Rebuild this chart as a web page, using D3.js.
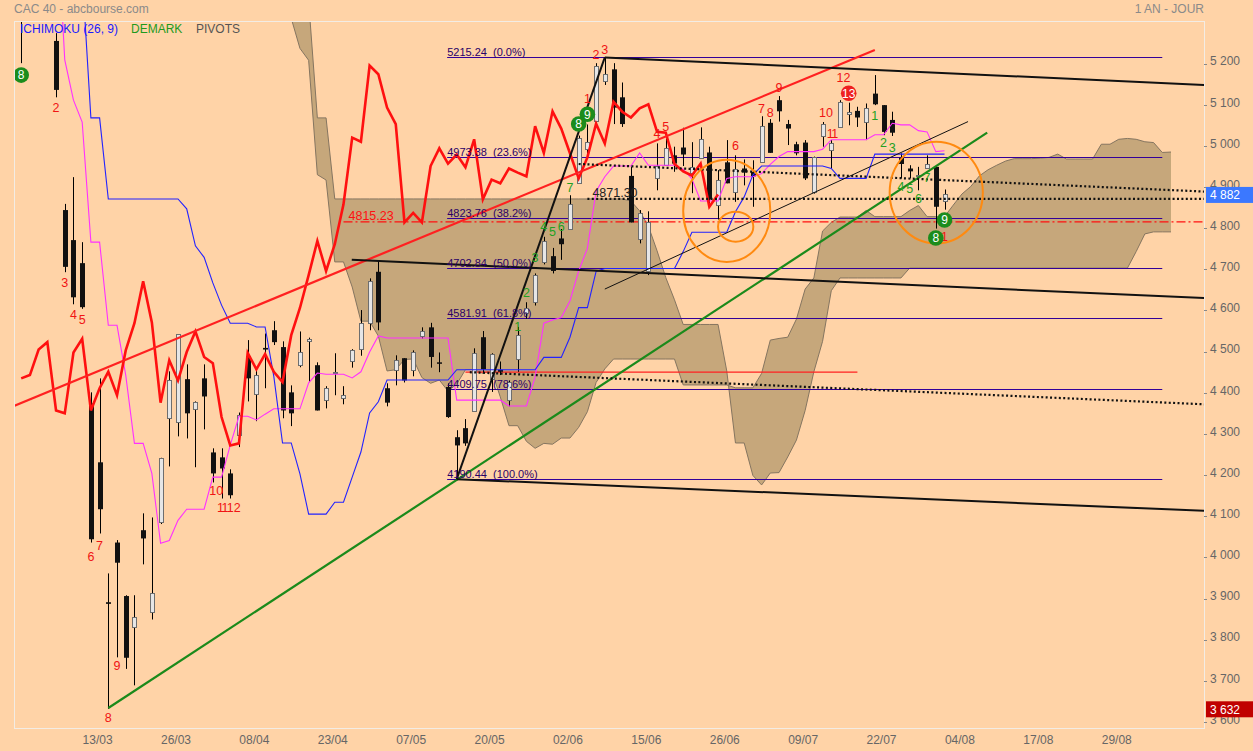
<!DOCTYPE html>
<html><head><meta charset="utf-8">
<script src="https://cdn.jsdelivr.net/npm/d3@7"></script>
<style>
html,body{margin:0;padding:0;background:#ffd3a7;}
svg{display:block;font-family:"Liberation Sans",Arial,sans-serif;}
</style></head><body>
<svg id="c" width="1253" height="751"></svg>
<script>
// ---------- DATA ----------
const open  = [5316,5340,5400,5480,5255,4844,4771,4715,4374,4231,3891,4036,3906,3830,4066,3866,4085,4338,4328,4433,4360,4435,4255,4243,4204,4297,4489,4396,4509,4552,4511,4401,4467,4526,4467,4382,4449,4387,4477,4506,4569,4694,4411,4455,4484,4455,4537,4559,4474,4414,4292,4314,4357,4535,4433,4456,4382,4481,4593,4621,4717,4732,4775,4798,4911,4994,5061,5158,5186,5118,4927,4775,4694,4921,4953,4977,4996,4933,4969,4984,4858,4960,4888,4945,4937,4961,5056,5111,5053,5004,5008,4888,5025,4990,5046,5077,5085,5058,5127,5099,5063,4971,4945,4928,4948,4949,4864];
const high  = [5366,5420,5490,5500,5274,4859,4924,4766,4401,4435,3961,4042,3908,3908,4107,4097,4242,4452,4542,4469,4379,4469,4265,4265,4214,4352,4528,4462,4544,4574,4525,4418,4549,4534,4474,4416,4496,4416,4506,4601,4678,4720,4423,4491,4484,4503,4559,4570,4498,4423,4309,4336,4508,4550,4496,4476,4430,4560,4620,4690,4779,4752,4798,4880,5025,5052,5201,5215,5201,5154,4949,4844,4841,5006,5018,4998,5044,5009,5045,4998,4941,5014,4977,4967,4965,5072,5065,5121,5063,5010,5014,4974,5058,5014,5111,5105,5095,5103,5172,5099,5083,4982,4953,4949,4977,4953,4894];
const low   = [5201,5310,5340,5350,5118,4693,4615,4604,4036,4058,3632,3757,3729,3689,3983,3849,4081,4221,4294,4289,4219,4311,4182,4143,4143,4268,4379,4331,4411,4516,4338,4319,4462,4426,4357,4362,4394,4372,4461,4490,4552,4552,4367,4418,4425,4440,4532,4461,4450,4339,4190,4271,4357,4450,4402,4443,4367,4451,4580,4612,4712,4690,4723,4798,4911,4974,5055,5148,5053,5046,4814,4763,4686,4892,4953,4937,4951,4885,4969,4860,4821,4909,4864,4904,4852,4961,4983,5059,5002,4977,4917,4884,4998,4945,5046,5050,5046,5014,5099,5026,5024,4921,4921,4892,4947,4799,4845];
const close = [5336,5393,5487,5368,5136,4706,4632,4608,4044,4117,3887,3987,3756,3855,4046,3913,4241,4430,4542,4350,4377,4391,4204,4216,4151,4345,4435,4443,4505,4523,4357,4350,4498,4531,4357,4411,4451,4394,4503,4569,4671,4571,4376,4479,4430,4499,4549,4487,4472,4341,4272,4277,4497,4457,4494,4451,4426,4540,4606,4686,4769,4696,4761,4858,5020,5010,5195,5174,5093,5053,4814,4837,4814,4951,4994,4957,4979,4948,5016,4870,4918,4909,4945,4935,4926,5048,4983,5084,5042,4982,4921,4972,5054,5006,5107,5083,5069,5091,5101,5034,5032,4956,4938,4928,4957,4852,4882];

// Ichimoku (26, 9) lines
const tenkan = [5650,5650,5650,5650,5600,5209,5111,5058,4766,4766,4564,4564,4443,4277,4277,4204,4034,4041,4090,4117,4117,4117,4195,4195,4273,4343,4343,4334,4348,4361,4361,4361,4361,4424,4448,4445,4445,4445,4436,4451,4499,4538,4533,4533,4533,4533,4533,4533,4533,4533,4382,4382,4382,4382,4382,4382,4368,4368,4368,4438,4569,4577,4583,4623,4696,4751,4890,4925,4951,4951,4951,4983,4953,4953,4953,4953,4943,4920,4866,4866,4866,4921,4925,4925,4925,4933,4955,4974,4986,4986,4986,4986,4992,5015,5015,5015,5015,5015,5027,5027,5055,5051,5051,5037,5034,4986,4988];
const kijun  = [5470,5470,5470,5470,5470,5470,5470,5418,5068,5068,4871,4871,4871,4871,4871,4871,4871,4871,4871,4847,4757,4729,4667,4613,4569,4569,4569,4560,4560,4440,4278,4278,4203,4105,4105,4105,4134,4134,4195,4256,4351,4378,4431,4431,4431,4431,4431,4431,4431,4431,4456,4456,4456,4456,4456,4456,4456,4456,4456,4456,4486,4486,4486,4535,4607,4607,4695,4702,4702,4702,4702,4702,4702,4702,4702,4702,4743,4790,4790,4790,4790,4790,4840,4876,4929,4951,4951,4951,4951,4951,4951,4951,4951,4945,4921,4921,4921,4921,4980,4980,4980,4980,4980,4980,4980,4980,4980];
// Senkou spans (already displaced 26 sessions ahead), first value at session index 30
const spanStart = 30;
const spanA = [
  5465,5310,5237,5208,4930,4917,4718,4718,4657,4574,
  4574,4538,4453,4456,4481,4482,4437,4423,4431,4404,
  4421,4456,4456,4447,4454,4390,4320,4320,4282,4265,
  4277,4275,4290,4290,4316,4354,4425,4458,4482,4482,
  4482,4482,4482,4482,4482,4482,4419,4419,4419,4419,
  4419,4419,4412,4412,4412,4447,4528,4532,4535,4579,
  4652,4679,4793,4814,4827,4827,4827,4843,4828,4828,
  4828,4828,4843,4855,4828,4828,4828,4856,4883,4901,
  4927,4942,4953,4963,4969,4969,4969,4970,4972,4980,
  4968,4968,4968,4968,5004,5004,5016,5018,5016,5010,
  5008,4984,4985];
const spanB = [
  5450,5420,5400,5351,5068,5068,4871,4871,4871,4871,
  4871,4871,4871,4871,4871,4871,4871,4871,4871,4871,
  4871,4871,4871,4871,4871,4871,4871,4871,4871,4871,
  4871,4871,4871,4871,4871,4871,4871,4871,4871,4871,
  4866,4842,4805,4745,4680,4626,4566,4566,4566,4566,
  4566,4453,4278,4278,4199,4176,4205,4206,4244,4285,
  4357,4451,4525,4648,4679,4679,4679,4679,4679,4679,
  4679,4679,4703,4703,4703,4703,4703,4703,4703,4703,
  4703,4703,4703,4703,4703,4703,4703,4703,4703,4703,
  4703,4703,4703,4703,4703,4703,4703,4703,4743,4786,
  4791,4791,4791];
const chikouShift = 26;

// axis
const tickIndex  = [9,18,27,36,45,54,63,72,81,90,99,108,117,126];
const tickLabels = ["13/03","26/03","08/04","23/04","07/05","20/05","02/06","15/06","26/06","09/07","22/07","04/08","17/08","29/08"];
const priceTicks = [3600,3700,3800,3900,4000,4100,4200,4300,4400,4500,4600,4700,4800,4900,5000,5100,5200];
const lastPrice = 4882, lowPrice = 3632;

// Fibonacci retracement
const fibLevels = [5215.24,4973.38,4823.76,4702.84,4581.91,4409.75,4190.44];
const fibPct    = ["0.0%","23.6%","38.2%","50.0%","61.8%","78.6%","100.0%"];
const fibSpan   = [48.9, 131.0];

// drawn lines: [index1, price1, index2, price2]
const redTrend    = [-0.83,4368, 98.0,5233];
const greenTrend  = [10,3634, 110.9,5032];
const blackSteep  = [50,4190, 67,5215];
const blackTop    = [67,5215, 135.8,5148];
const blackMid    = [37.95,4723, 135.8,4630];
const blackBottom = [50,4190, 135.8,4113];
const thinBlack   = [67,4652, 108.7,5059];
const dotUpper    = [64,4956, 135.8,4889];
const dotMid      = [65,4871.30, 135.8,4871.30];
const dotLower    = [51.5,4450, 135.8,4372];
const redShort    = [51,4450, 96,4450];
const redLevel    = [37,4815.23, 135.8,4815.23];

// orange ellipses: [index1, index2, priceTop, priceBottom]
const ellipses = [[76.0,86.0,4966,4718],[80.0,84.05,4840,4767],[99.7,110.4,5010,4763]];

// DeMark counts: [index, price, text]
const demarkRed = [[4,5094,"2"],[5,4667,"3"],[6,4589,"4"],[7,4579,"5"],[8,4003,"6"],[9,4030,"7"],[10,3610,"8"],[11,3736,"9"],[22,4162,"10"],[23,4120,"11"],[24,4120,"12"],[65,5116,"1"],[66,5221,"2"],[67,5233,"3"],[73,5031,"4"],[74,5046,"5"],[82,5000,"6"],[85,5090,"7"],[86,5082,"8"],[87,5143,"9"],[92,5082,"10"],[93,5029,"11"],[94,5167,"12"],[106,4779,"1"]];
const demarkRedCircle = [[95,5128,"13"]];
const demarkGreen = [[57,4560,"1"],[58,4643,"2"],[59,4728,"3"],[60,4803,"4"],[61,4791,"5"],[62,4803,"6"],[63,4900,"7"],[98,5075,"1"],[99,5007,"2"],[100,4997,"3"],[101,4902,"4"],[102,4897,"5"],[103,4871,"6"],[104,4924,"7"]];
const demarkGreenCircle = [[0,5172,"8"],[64,5053,"8"],[65,5077,"9"],[105,4776,"8"],[106,4820,"9"]];

// ---------- CHART ----------
const L=14, T=21, R=1204, B=728;
const x = d3.scaleLinear().domain([-0.827,135.79]).range([L,R]);
const y = d3.scaleLinear().domain([5215.24,4190.44]).range([57.3,479.0]);
const svg = d3.select("#c");

svg.append("defs").append("clipPath").attr("id","clip")
  .append("rect").attr("x",L).attr("y",T).attr("width",R-L).attr("height",B-T);

svg.append("text").attr("x",14).attr("y",13).attr("font-size",12).attr("fill","#8a8a8a").text("CAC 40 - abcbourse.com");
svg.append("text").attr("x",1204).attr("y",13).attr("font-size",12).attr("fill","#8a8a8a").attr("text-anchor","end").text("1 AN - JOUR");

const plot = svg.append("g").attr("clip-path","url(#clip)");

// cloud
const spanIdx = d3.range(Math.min(spanA.length, spanB.length));
const area = d3.area().x(k=>x(k+spanStart)).y0(k=>y(spanB[k])).y1(k=>y(spanA[k]));
plot.append("path").datum(spanIdx).attr("d",area).attr("fill","#c6a77b");
const lineA = d3.line().x(k=>x(k+spanStart)).y(k=>y(spanA[k]));
const lineB = d3.line().x(k=>x(k+spanStart)).y(k=>y(spanB[k]));
plot.append("path").datum(spanIdx).attr("d",lineA).attr("fill","none").attr("stroke","#857560").attr("stroke-width",1);
plot.append("path").datum(spanIdx).attr("d",lineB).attr("fill","none").attr("stroke","#857560").attr("stroke-width",1);

// fib lines
fibLevels.forEach(v=>{
  plot.append("line").attr("x1",x(fibSpan[0])).attr("x2",x(fibSpan[1]))
    .attr("y1",Math.round(y(v))+0.5).attr("y2",Math.round(y(v))+0.5)
    .attr("stroke","#330099").attr("stroke-width",1);
});

function seg(a, color, w, dash){
  const p = plot.append("line").attr("x1",x(a[0])).attr("y1",y(a[1])).attr("x2",x(a[2])).attr("y2",y(a[3]))
    .attr("stroke",color).attr("stroke-width",w);
  if(dash) p.attr("stroke-dasharray",dash);
  return p;
}
seg(redLevel,"#ff1010",1.3,"9,3,2,3");
seg(redShort,"#ff2020",1.2);

// candles
const idx = d3.range(open.length);
idx.forEach(i=>{
  const xc = Math.round(x(i))+0.5;
  plot.append("line").attr("x1",xc).attr("x2",xc).attr("y1",y(high[i])).attr("y2",y(low[i])).attr("stroke","#000").attr("stroke-width",1);
  const up = close[i]>=open[i];
  const top = y(Math.max(open[i],close[i])), bot = y(Math.min(open[i],close[i]));
  if(up){
    plot.append("rect").attr("x",xc-2).attr("y",Math.round(top)+0.5).attr("width",4).attr("height",Math.max(1,Math.round(bot-top)))
      .attr("fill","#e6e6e6").attr("stroke","#6e6e6e").attr("stroke-width",1);
  } else {
    plot.append("rect").attr("x",xc-2.5).attr("y",top).attr("width",5).attr("height",Math.max(1.5,bot-top)).attr("fill","#111");
  }
});

// ichimoku lines
const lt = d3.line().x(i=>x(i)).y(i=>y(tenkan[i]));
const lk = d3.line().x(i=>x(i)).y(i=>y(kijun[i]));
plot.append("path").datum(idx).attr("d",lt).attr("fill","none").attr("stroke","#ff30ff").attr("stroke-width",1.1);
plot.append("path").datum(idx).attr("d",lk).attr("fill","none").attr("stroke","#2222ff").attr("stroke-width",1.1);
const chIdx = idx.filter(i=>i+chikouShift<close.length);
const lc = d3.line().x(i=>x(i)).y(i=>y(close[i+chikouShift]));
plot.append("path").datum(chIdx).attr("d",lc).attr("fill","none").attr("stroke","#ff1010").attr("stroke-width",2.6);

// trend lines
seg(redTrend,"#ff2020",2.2);
seg(greenTrend,"#1b8a1b",2.2);
seg(blackSteep,"#111",2);
seg(blackTop,"#111",2);
seg(blackMid,"#111",2);
seg(blackBottom,"#111",2);
seg(thinBlack,"#111",1);
seg(dotUpper,"#111",2.2,"2,2.4");
seg(dotMid,"#111",2.2,"2,2.4");
seg(dotLower,"#111",2.2,"2,2.4");

// ellipses
ellipses.forEach(e=>{
  const cx=(x(e[0])+x(e[1]))/2, cy=(y(e[2])+y(e[3]))/2;
  plot.append("ellipse").attr("cx",cx).attr("cy",cy).attr("rx",(x(e[1])-x(e[0]))/2).attr("ry",(y(e[3])-y(e[2]))/2)
    .attr("fill","none").attr("stroke","#ff8a10").attr("stroke-width",2);
});

// fib texts
fibLevels.forEach((v,k)=>{
  plot.append("text").attr("x",x(fibSpan[0])).attr("y",Math.round(y(v))-1).attr("font-size",11).attr("fill","#2a0066")
    .attr("xml:space","preserve").text(v.toFixed(2)+"  ("+fibPct[k]+")");
});
plot.append("text").attr("x",x(dotMid[0])+5).attr("y",y(dotMid[1])-2).attr("font-size",12.5).attr("fill","#222").text(dotMid[1].toFixed(2));
plot.append("text").attr("x",x(redLevel[0])+5).attr("y",y(redLevel[1])-2).attr("font-size",12.5).attr("fill","#ff1010").text(redLevel[1].toFixed(2));

// DeMark labels
function countText(d, color){
  const t = plot.append("text").attr("x",x(d[0])-3.5).attr("y",y(d[1])).attr("dy","0.36em").attr("font-size",12.5).attr("fill",color).text(d[2]);
  if(d[2]==="11") t.attr("x",x(d[0])-4.5).attr("letter-spacing",-1.6);
}
demarkRed.forEach(d=>countText(d,"#f01414"));
demarkGreen.forEach(d=>countText(d,"#22a022"));
function badge(d, fill){
  plot.append("circle").attr("cx",x(d[0])).attr("cy",y(d[1])).attr("r",7.8).attr("fill",fill);
  plot.append("text").attr("x",x(d[0])).attr("y",y(d[1])).attr("dy","0.36em").attr("text-anchor","middle").attr("font-size",12).attr("fill","#fff").text(d[2]);
}
demarkGreenCircle.forEach(d=>badge(d,"#1c8c1c"));
demarkRedCircle.forEach(d=>badge(d,"#ee2020"));

// legend
svg.append("text").attr("x",20).attr("y",33).attr("font-size",12).attr("fill","#1a1aff").text("ICHIMOKU (26, 9)");
svg.append("text").attr("x",131).attr("y",33).attr("font-size",12).attr("fill","#1e9a1e").text("DEMARK");
svg.append("text").attr("x",196).attr("y",33).attr("font-size",12).attr("fill","#555").text("PIVOTS");

// frame
svg.append("rect").attr("x",L+0.5).attr("y",T+0.5).attr("width",R-L).attr("height",B-T).attr("fill","none").attr("stroke","#f3ece4").attr("stroke-width",1);

// right axis
const fmt = v=>d3.format(",")(v).replace(/,/g," ");
priceTicks.forEach(v=>{
  svg.append("line").attr("x1",R).attr("x2",R+3).attr("y1",Math.round(y(v))+0.5).attr("y2",Math.round(y(v))+0.5).attr("stroke","#888");
  svg.append("text").attr("x",1210).attr("y",y(v)+1.8).attr("font-size",12).attr("fill","#666").text(fmt(v));
});
function priceBox(v, fill){
  const yc=y(v);
  svg.append("rect").attr("x",1206).attr("y",yc-7.5).attr("width",47).attr("height",16).attr("fill",fill);
  svg.append("text").attr("x",1210).attr("y",yc+4.8).attr("font-size",12).attr("fill","#fff").text(fmt(v));
}
priceBox(lastPrice,"#3b78ff");
priceBox(lowPrice,"#c00000");

// bottom axis
tickIndex.forEach((t,k)=>{
  svg.append("text").attr("x",x(t)-2).attr("y",744).attr("text-anchor","middle").attr("font-size",12).attr("fill","#666").text(tickLabels[k]);
});
</script>
</body></html>
